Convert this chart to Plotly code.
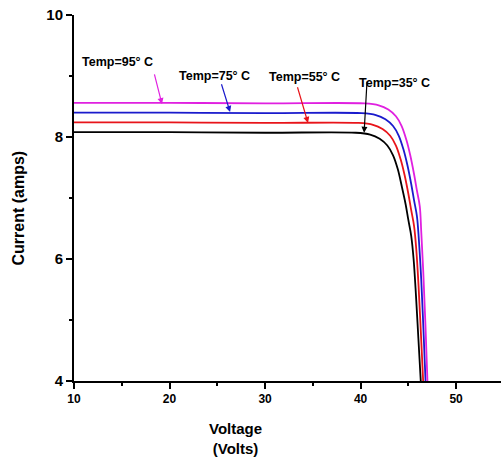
import plotly.graph_objects as go

v_35 = [10, 20, 30, 39.5, 41.0, 42.0, 42.8, 43.4, 43.9, 44.3, 44.7, 45.0, 45.3, 45.55, 45.8, 46.05, 46.3]
i_35 = [8.08, 8.08, 8.07, 8.07, 8.04, 7.97, 7.86, 7.70, 7.47, 7.20, 6.91, 6.64, 6.38, 6.00, 5.40, 4.70, 4.0]
v_55 = [10, 20, 30, 39.8, 41.3, 42.3, 43.1, 43.7, 44.2, 44.6, 45.0, 45.3, 45.6, 45.83, 46.07, 46.31, 46.55]
i_55 = [8.24, 8.24, 8.23, 8.23, 8.20, 8.13, 8.02, 7.86, 7.63, 7.38, 7.07, 6.80, 6.54, 6.16, 5.56, 4.80, 4.0]
v_75 = [10, 20, 30, 40.1, 41.6, 42.6, 43.4, 44.0, 44.5, 44.9, 45.3, 45.6, 45.9, 46.1, 46.35, 46.58, 46.8]
i_75 = [8.40, 8.40, 8.39, 8.39, 8.36, 8.29, 8.18, 8.02, 7.79, 7.54, 7.23, 6.96, 6.70, 6.32, 5.66, 4.85, 4.0]
v_95 = [10, 20, 30, 40.4, 41.9, 42.9, 43.7, 44.3, 44.8, 45.2, 45.6, 45.9, 46.2, 46.35, 46.57, 46.79, 47.0]
i_95 = [8.56, 8.56, 8.55, 8.55, 8.52, 8.45, 8.34, 8.18, 7.95, 7.70, 7.39, 7.12, 6.86, 6.45, 5.76, 4.92, 4.0]

labels = ["Temp=95° C", "Temp=75° C", "Temp=55° C", "Temp=35° C"]
x_ticks = [10, 20, 30, 40, 50]
y_ticks = [4, 6, 8, 10]

FONT = "Arial, Liberation Sans, sans-serif"

fig = go.Figure()
series = [(v_35, i_35, "black"), (v_55, i_55, "#e8141a"), (v_75, i_75, "#1a1acc"), (v_95, i_95, "#e020e0")]
for v, i, c in series:
    fig.add_trace(go.Scatter(x=v, y=i, mode="lines", line=dict(color=c, width=1.8, shape="spline", smoothing=1.0),
                             showlegend=False, hoverinfo="skip"))

# text labels
text_pos = [(14.57, 9.23), (24.71, 9.0), (34.14, 8.99), (43.51, 8.885)]
for t, (x, y) in zip(labels, text_pos):
    fig.add_annotation(x=x, y=y, text="<b>%s</b>" % t, showarrow=False,
                       font=dict(family=FONT, size=12.5, color="black"))

# arrows (head, tail)
arrows = [((19.21, 8.54), (18.38, 9.05), "#e020e0"),
          ((26.34, 8.41), (25.39, 8.89), "#1a1acc"),
          ((34.50, 8.23), (33.35, 8.84), "#e8141a"),
          ((40.37, 8.07), (40.68, 8.93), "black")]
for (hx, hy), (tx, ty), c in arrows:
    fig.add_annotation(x=hx, y=hy, ax=tx, ay=ty, axref="x", ayref="y", text="",
                       showarrow=True, arrowhead=2, arrowsize=1, arrowwidth=1.2, arrowcolor=c)

fig.add_annotation(xref="paper", yref="paper", x=(235 - 74) / (501 - 74), y=-(438 - 381) / 366.0,
                   text="<b>Voltage<br>(Volts)</b>", showarrow=False, yanchor="middle",
                   font=dict(family=FONT, size=15, color="black"))
fig.add_annotation(xref="paper", yref="paper", x=(17.5 - 74) / (501 - 74), y=(381 - 208) / 366.0,
                   text="<b>Current (amps)</b>", showarrow=False, textangle=-90,
                   xanchor="center", yanchor="middle",
                   font=dict(family=FONT, size=16, color="black"))

fig.update_layout(
    width=501, height=459,
    margin=dict(l=74, r=0, t=15, b=78),
    paper_bgcolor="white", plot_bgcolor="white",
    font=dict(family=FONT, color="black"),
    xaxis=dict(range=[10, 54.7], tickvals=x_ticks, ticktext=[str(t) for t in x_ticks],
               showgrid=False, zeroline=False, showline=True, linecolor="black", linewidth=2,
               ticks="outside", ticklen=6, tickwidth=2, tickcolor="black",
               tickfont=dict(family=FONT, size=12, color="black", weight="bold"),
               minor=dict(tickvals=[15, 25, 35, 45, 55], ticks="outside", ticklen=3, tickwidth=2, tickcolor="black")),
    yaxis=dict(range=[4, 10], tickvals=y_ticks, ticktext=[str(t) for t in y_ticks],
               showgrid=False, zeroline=False, showline=True, linecolor="black", linewidth=2,
               ticks="outside", ticklen=6, tickwidth=2, tickcolor="black",
               tickfont=dict(family=FONT, size=15, color="black", weight="bold"),
               minor=dict(tickvals=[5, 7, 9], ticks="outside", ticklen=3, tickwidth=2, tickcolor="black")),
)

fig.write_html("out.html")
